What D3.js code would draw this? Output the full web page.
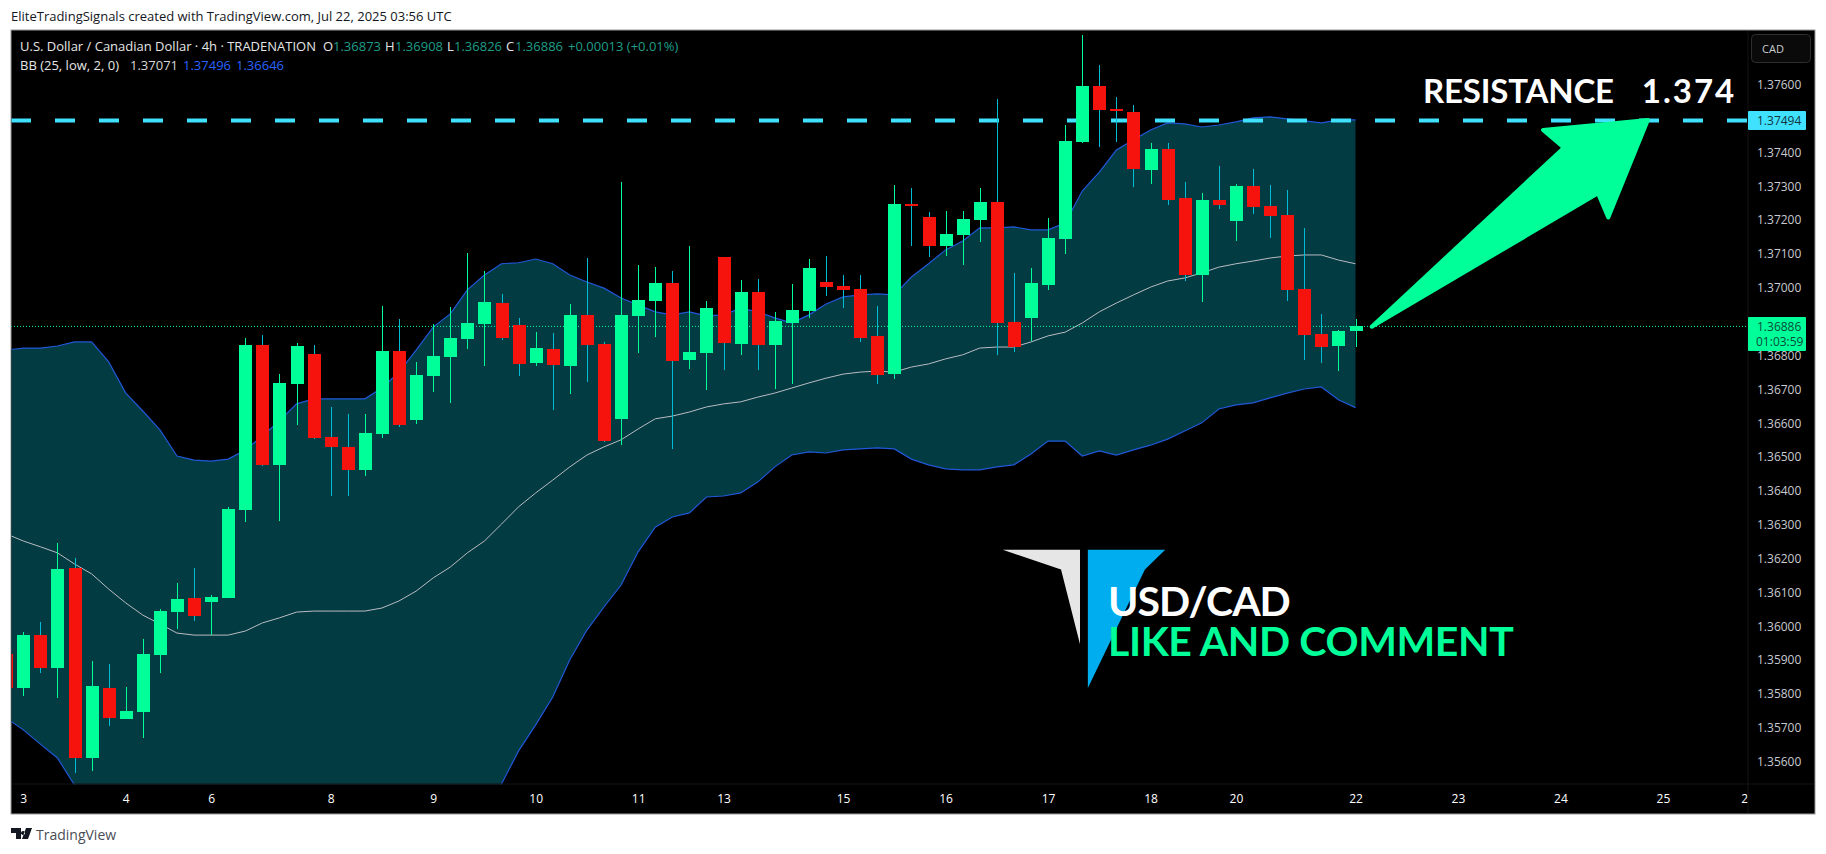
<!DOCTYPE html>
<html>
<head>
  <style>
    body { margin: 0; background: #fff; font-family: "Open Sans", sans-serif; }
    svg { display: block; }
    .axis text { fill: #c8cad0; font-size: 12px; font-family: "Open Sans", sans-serif; }
    .axis path, .axis line { display: none; }
    #x-axis text { fill: #fff; }
  </style>
</head>
<body>
  <script src="https://d3js.org/d3.v7.min.js"></script>
  <script>
    // 4h USD/CAD bars
    const opens = [1.35918,1.35818,1.35974,1.35877,1.36172,1.35611,1.35818,1.35726,1.35747,1.35915,1.36042,1.36084,1.36072,1.36084,1.36344,1.36831,1.36477,1.36716,1.36805,1.36559,1.36530,1.36462,1.36568,1.36813,1.36610,1.36739,1.36796,1.36849,1.36893,1.36955,1.36890,1.36778,1.36819,1.36769,1.36920,1.36834,1.36613,1.36917,1.36961,1.37014,1.36787,1.36808,1.37091,1.36834,1.36988,1.36831,1.36896,1.36932,1.37017,1.37005,1.36997,1.36858,1.36745,1.37248,1.37209,1.37123,1.37156,1.37200,1.37254,1.36899,1.36911,1.37008,1.37144,1.37431,1.37596,1.37528,1.37519,1.37348,1.37410,1.37265,1.37038,1.37259,1.37197,1.37301,1.37242,1.37215,1.36997,1.36864,1.36828,1.36873];
    const highs = [1.35930,1.35983,1.36013,1.36246,1.36202,1.35898,1.35889,1.35821,1.35963,1.36051,1.36128,1.36172,1.36093,1.36353,1.36852,1.36861,1.36745,1.36837,1.36831,1.36648,1.36627,1.36627,1.36946,1.36908,1.36781,1.36893,1.36943,1.37103,1.37050,1.36982,1.36911,1.36869,1.36867,1.36952,1.37088,1.36840,1.37313,1.37067,1.37061,1.37050,1.37123,1.36961,1.37091,1.37023,1.37026,1.36929,1.37011,1.37085,1.37094,1.37038,1.37038,1.36946,1.37304,1.37295,1.37224,1.37227,1.37227,1.37295,1.37558,1.37044,1.37058,1.37206,1.37481,1.37747,1.37658,1.37564,1.37540,1.37428,1.37428,1.37313,1.37280,1.37360,1.37307,1.37351,1.37304,1.37289,1.37177,1.36923,1.36875,1.36908];
    const lows = [1.35806,1.35794,1.35862,1.35788,1.35567,1.35573,1.35706,1.35726,1.35670,1.35862,1.35992,1.36016,1.35974,1.36084,1.36308,1.36474,1.36311,1.36595,1.36553,1.36385,1.36385,1.36444,1.36556,1.36589,1.36598,1.36692,1.36660,1.36819,1.36769,1.36846,1.36739,1.36769,1.36640,1.36686,1.36722,1.36544,1.36535,1.36808,1.36855,1.36524,1.36760,1.36698,1.36757,1.36802,1.36757,1.36701,1.36716,1.36911,1.36976,1.36940,1.36840,1.36716,1.36730,1.37123,1.37091,1.37094,1.37067,1.37135,1.36802,1.36810,1.36843,1.36994,1.37100,1.37428,1.37416,1.37431,1.37298,1.37307,1.37245,1.37020,1.36958,1.37233,1.37138,1.37218,1.37147,1.36961,1.36787,1.36778,1.36754,1.36826];
    const closes = [1.35818,1.35974,1.35877,1.36169,1.35611,1.35824,1.35729,1.35750,1.35918,1.36045,1.36081,1.36030,1.36087,1.36347,1.36831,1.36477,1.36719,1.36828,1.36556,1.36530,1.36462,1.36571,1.36813,1.36595,1.36742,1.36799,1.36852,1.36896,1.36958,1.36852,1.36775,1.36822,1.36772,1.36920,1.36831,1.36547,1.36920,1.36964,1.37014,1.36784,1.36810,1.36940,1.36837,1.36988,1.36831,1.36902,1.36934,1.37058,1.37002,1.36994,1.36852,1.36742,1.37248,1.37242,1.37123,1.37159,1.37203,1.37254,1.36896,1.36825,1.37014,1.37147,1.37434,1.37596,1.37525,1.37522,1.37351,1.37410,1.37259,1.37038,1.37259,1.37245,1.37301,1.37239,1.37212,1.36994,1.36861,1.36825,1.36872,1.36886];

    // Bollinger bands (25, low, 2, 0)
    const bbUpper = [1.36816,1.36822,1.36822,1.36828,1.36840,1.36840,1.36781,1.36689,1.36636,1.36580,1.36503,1.36491,1.36488,1.36494,1.36521,1.36562,1.36607,1.36657,1.36672,1.36672,1.36672,1.36672,1.36704,1.36751,1.36816,1.36884,1.36923,1.36994,1.37038,1.37071,1.37074,1.37085,1.37071,1.37038,1.37017,1.36999,1.36970,1.36949,1.36929,1.36920,1.36929,1.36917,1.36920,1.36940,1.36929,1.36911,1.36896,1.36920,1.36952,1.36973,1.36979,1.36982,1.36979,1.37032,1.37071,1.37112,1.37138,1.37177,1.37177,1.37180,1.37171,1.37171,1.37191,1.37286,1.37342,1.37407,1.37437,1.37466,1.37487,1.37484,1.37475,1.37481,1.37490,1.37502,1.37505,1.37499,1.37493,1.37487,1.37496,1.37496];
    const bbMiddle = [1.36273,1.36252,1.36235,1.36217,1.36184,1.36155,1.36110,1.36069,1.36033,1.36007,1.35980,1.35974,1.35974,1.35974,1.35986,1.36010,1.36025,1.36042,1.36045,1.36045,1.36045,1.36045,1.36054,1.36075,1.36104,1.36143,1.36175,1.36217,1.36252,1.36302,1.36353,1.36394,1.36432,1.36471,1.36506,1.36530,1.36551,1.36583,1.36613,1.36621,1.36633,1.36648,1.36657,1.36663,1.36677,1.36689,1.36704,1.36719,1.36733,1.36745,1.36751,1.36754,1.36751,1.36766,1.36775,1.36790,1.36802,1.36822,1.36825,1.36825,1.36840,1.36858,1.36869,1.36896,1.36929,1.36955,1.36979,1.37002,1.37020,1.37029,1.37044,1.37061,1.37071,1.37079,1.37088,1.37094,1.37097,1.37097,1.37082,1.37071];
    const bbLower = [1.35729,1.35694,1.35652,1.35611,1.35531,1.35469,1.35440,1.35449,1.35431,1.35434,1.35457,1.35457,1.35457,1.35455,1.35452,1.35457,1.35443,1.35428,1.35419,1.35419,1.35419,1.35419,1.35404,1.35398,1.35392,1.35401,1.35428,1.35440,1.35466,1.35534,1.35632,1.35709,1.35791,1.35901,1.35989,1.36057,1.36122,1.36220,1.36293,1.36323,1.36335,1.36382,1.36385,1.36394,1.36426,1.36471,1.36506,1.36515,1.36512,1.36521,1.36524,1.36527,1.36524,1.36494,1.36477,1.36465,1.36462,1.36462,1.36471,1.36477,1.36509,1.36547,1.36547,1.36503,1.36518,1.36506,1.36521,1.36535,1.36553,1.36577,1.36601,1.36642,1.36654,1.36660,1.36675,1.36689,1.36701,1.36707,1.36669,1.36646];

    const priceTicks = [1.356,1.357,1.358,1.359,1.36,1.361,1.362,1.363,1.364,1.365,1.366,1.367,1.368,1.37,1.371,1.372,1.373,1.374,1.376];
    const dayBars = [1,7,12,19,25,31,37,42,49,55,61,67,72,79,85,91,97,101.75];
    const dayLabels = ['3','4','6','8','9','10','11','13','15','16','17','18','20','22','23','24','25','2'];

    const resistancePrice = 1.37494;
    const lastPrice = 1.36886;

    // drawings anchored the way TradingView does: [bar, price]
    const arrowShape = [[79.95,1.36885],[91.2,1.37414],[89.98,1.37466],[96.12,1.37496],[93.8,1.37208],[93.2,1.37279]];
    const logoLeft = [[58.35,1.36226],[62.87,1.36226],[62.87,1.35947],[61.76,1.36168]];
    const logoRight = [[63.33,1.36226],[67.86,1.36226],[66.67,1.36168],[63.33,1.35818]];

    const width = 1826;
    const height = 854;
    const plot = { left: 11, top: 30, right: 1748, bottom: 784, outer: 1815, end: 814 };

    const x = d3.scaleLinear().domain([0, 79]).range([6.2, 1355.5]);
    const y = d3.scaleLinear().domain([1.356, 1.376]).range([761.7, 84.7]);
    const bars = d3.range(opens.length);
    const bodyWidth = 13;

    const green = '#00ff99';
    const red = '#f7130d';
    const cyan = '#40e0ff';
    const blue = '#2058d8';

    const svg = d3.select('body').append('svg').attr('width', width).attr('height', height);

    svg.append('rect').attr('width', width).attr('height', height).attr('fill', '#fff');
    svg.append('rect')
      .attr('x', plot.left).attr('y', plot.top)
      .attr('width', plot.outer - plot.left).attr('height', plot.end - plot.top)
      .attr('fill', '#000').attr('stroke', '#9a9a9a');

    svg.append('defs').append('clipPath').attr('id', 'pane')
      .append('rect')
      .attr('x', plot.left + 0.5).attr('y', plot.top + 0.5)
      .attr('width', plot.right - plot.left).attr('height', plot.bottom - plot.top);

    const pane = svg.append('g').attr('clip-path', 'url(#pane)');

    // bands
    pane.append('path').datum(bars)
      .attr('fill', '#023b42')
      .attr('d', d3.area().x(i => x(i)).y0(i => y(bbLower[i])).y1(i => y(bbUpper[i])));

    const bandLine = values => d3.line().x(i => x(i)).y(i => y(values[i]));
    [[bbUpper, blue, 1.2], [bbLower, blue, 1.2], [bbMiddle, '#b9bcc2', 1]].forEach(([values, color, w]) => {
      pane.append('path').datum(bars)
        .attr('fill', 'none').attr('stroke', color).attr('stroke-width', w)
        .attr('d', bandLine(values));
    });

    // resistance and last price lines
    pane.append('line')
      .attr('x1', plot.left).attr('x2', plot.right)
      .attr('y1', y(resistancePrice)).attr('y2', y(resistancePrice))
      .attr('stroke', cyan).attr('stroke-width', 4).attr('stroke-dasharray', '20 24');
    pane.append('line')
      .attr('x1', plot.left).attr('x2', plot.right)
      .attr('y1', y(lastPrice)).attr('y2', y(lastPrice))
      .attr('stroke', green).attr('stroke-width', 1).attr('stroke-dasharray', '1 2');

    // candles
    const candle = pane.selectAll('.candle').data(bars).enter().append('g')
      .attr('class', 'candle').attr('shape-rendering', 'crispEdges');
    candle.append('line')
      .attr('x1', i => Math.round(x(i)) + 0.5).attr('x2', i => Math.round(x(i)) + 0.5)
      .attr('y1', i => y(highs[i])).attr('y2', i => y(lows[i]))
      .attr('stroke', i => closes[i] >= opens[i] ? green : '#00bcd4');
    candle.append('rect')
      .attr('x', i => Math.round(x(i)) - 6)
      .attr('width', bodyWidth)
      .attr('y', i => y(Math.max(opens[i], closes[i])))
      .attr('height', i => Math.max(2, Math.abs(y(opens[i]) - y(closes[i]))))
      .attr('fill', i => closes[i] >= opens[i] ? green : red);

    // arrow and logo
    const shape = d3.line().x(d => x(d[0])).y(d => y(d[1])).curve(d3.curveLinearClosed);
    pane.append('path').attr('d', shape(arrowShape))
      .attr('fill', green).attr('stroke', green).attr('stroke-width', 4).attr('stroke-linejoin', 'round');
    pane.append('path').attr('d', shape(logoLeft)).attr('fill', '#e6e6e6');
    pane.append('path').attr('d', shape(logoRight)).attr('fill', '#00aeef');

    // annotation texts
    const resistance = svg.append('text').attr('x', 1423).attr('y', 103)
      .attr('fill', '#fff').attr('font-size', 33).attr('font-family', 'Lato').attr('font-weight', 700);
    resistance.append('tspan').attr('letter-spacing', -0.2).text('RESISTANCE');
    resistance.append('tspan').attr('dx', 28).attr('letter-spacing', 2).text('1.374');

    const note = svg.append('text').attr('font-size', 41).attr('font-family', 'Lato').attr('font-weight', 700);
    note.append('tspan').attr('x', 1108).attr('y', 616).attr('fill', '#fff').attr('letter-spacing', -1).text('USD/CAD');
    note.append('tspan').attr('x', 1108).attr('y', 656).attr('fill', green).attr('letter-spacing', -0.4).text('LIKE AND COMMENT');

    // axes
    svg.append('g').attr('id', 'x-axis').attr('class', 'axis')
      .attr('transform', `translate(0, ${plot.bottom})`)
      .call(d3.axisBottom(x).tickValues(dayBars).tickFormat((d, i) => dayLabels[i]).tickSize(0).tickPadding(10));

    svg.append('g').attr('id', 'y-axis').attr('class', 'axis')
      .attr('transform', `translate(${plot.right}, 0)`)
      .call(d3.axisRight(y).tickValues(priceTicks).tickFormat(d3.format('.5f')).tickSize(0).tickPadding(9));

    svg.append('line').attr('x1', plot.right).attr('x2', plot.right).attr('y1', plot.top + 1).attr('y2', plot.end - 1).attr('stroke', '#141414');
    svg.append('line').attr('x1', plot.left + 1).attr('x2', plot.outer - 1).attr('y1', plot.bottom).attr('y2', plot.bottom).attr('stroke', '#141414');

    // price labels
    svg.append('rect').attr('x', plot.right).attr('y', y(resistancePrice) - 9.5).attr('width', 58).attr('height', 19).attr('rx', 1).attr('fill', cyan);
    svg.append('text').attr('x', 1757).attr('y', y(resistancePrice) + 4.5).attr('font-size', 12).attr('fill', '#12343c').text('1.37494');
    svg.append('rect').attr('x', plot.right).attr('y', y(lastPrice) - 9.5).attr('width', 58).attr('height', 34).attr('rx', 1).attr('fill', green);
    svg.append('text').attr('x', 1757).attr('y', y(lastPrice) + 4.5).attr('font-size', 12).attr('fill', '#0c4a3a').text('1.36886');
    svg.append('text').attr('x', 1756).attr('y', y(lastPrice) + 19.5).attr('font-size', 12).attr('fill', '#0c4a3a').text('01:03:59');

    // currency button
    svg.append('rect').attr('x', 1751.5).attr('y', 34.5).attr('width', 59).attr('height', 28).attr('rx', 4)
      .attr('fill', '#0a0a0a').attr('stroke', '#2e2e2e');
    svg.append('text').attr('x', 1762).attr('y', 53).attr('font-size', 11).attr('fill', '#c8cad0').text('CAD');

    // legend
    const legend = (tx, ty, fill, label) => svg.append('text')
      .attr('x', tx).attr('y', ty).attr('font-size', 13).attr('fill', fill).text(label);
    legend(20, 51, '#e6e6e6', 'U.S. Dollar / Canadian Dollar · 4h · TRADENATION');
    legend(323, 51, '#e6e6e6', 'O');
    legend(333, 51, '#1f9e88', '1.36873');
    legend(385, 51, '#e6e6e6', 'H');
    legend(395, 51, '#1f9e88', '1.36908');
    legend(447, 51, '#e6e6e6', 'L');
    legend(454, 51, '#1f9e88', '1.36826');
    legend(506, 51, '#e6e6e6', 'C');
    legend(515, 51, '#1f9e88', '1.36886');
    legend(568, 51, '#1f9e88', '+0.00013 (+0.01%)');
    legend(20, 70, '#e6e6e6', 'BB (25, low, 2, 0)');
    legend(130, 70, '#d8d8d8', '1.37071');
    legend(183, 70, '#2962ff', '1.37496');
    legend(236, 70, '#2962ff', '1.36646');

    // page header and footer
    svg.append('text').attr('x', 11).attr('y', 21).attr('font-size', 13).attr('fill', '#131722')
      .text('EliteTradingSignals created with TradingView.com, Jul 22, 2025 03:56 UTC');
    svg.append('path').attr('fill', '#131722')
      .attr('d', 'M11 828h10v11h-5v-6h-5z M23 831a2 2 0 1 0 0.01 0z M26 828h6l-4 11h-6z');
    svg.append('text').attr('x', 36).attr('y', 840).attr('font-size', 14).attr('fill', '#4a4d55').text('TradingView');
  </script>
</body>
</html>
